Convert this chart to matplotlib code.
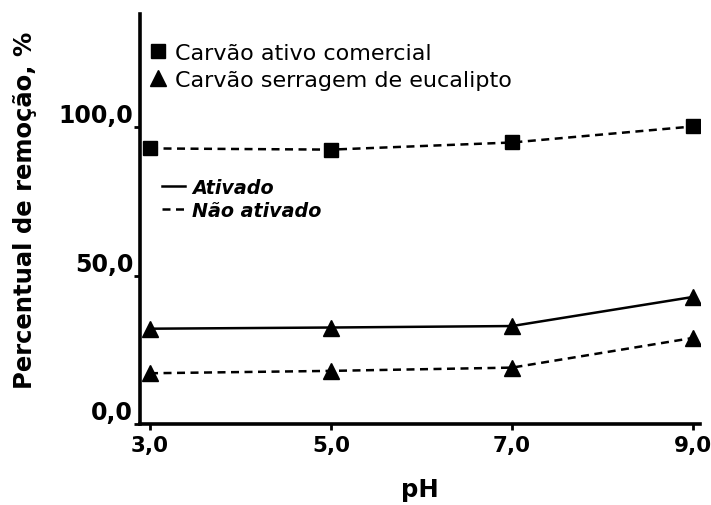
import matplotlib
matplotlib.use('Agg')
import matplotlib.pyplot as plt
import matplotlib.transforms as mtransforms
from matplotlib.lines import Line2D

plt.rcParams['font.family'] = ['DejaVu Sans']

# pH values and removal percentages
ph = [3.0, 5.0, 7.0, 9.0]
comercial_nao_ativado = [92.8, 92.4, 94.8, 100.2]
eucalipto_ativado = [32.1, 32.5, 33.0, 42.8]
eucalipto_nao_ativado = [17.1, 17.9, 19.0, 29.0]

x_ticks = [3.0, 5.0, 7.0, 9.0]
x_labels = ['3,0', '5,0', '7,0', '9,0']
y_ticks = [0, 50, 100]
y_labels = ['0,0', '50,0', '100,0']

fig = plt.figure(figsize=(7.11, 5.06), dpi=100)
ax = fig.add_axes([0.197, 0.160, 0.788, 0.810])

dash = (0, (3.2, 2.2))
ax.plot(ph, comercial_nao_ativado, color='black', lw=1.8, ls=dash,
        marker='s', ms=10.5, mec='black', mfc='black')
ax.plot(ph, eucalipto_ativado, color='black', lw=1.8, ls='-',
        marker='^', ms=11.5, mec='black', mfc='black')
ax.plot(ph, eucalipto_nao_ativado, color='black', lw=1.8, ls=dash,
        marker='^', ms=11.5, mec='black', mfc='black')

ax.set_xlim(2.89, 9.08)
ax.set_ylim(0, 138)

for side in ['top', 'right']:
    ax.spines[side].set_visible(False)
for side in ['left', 'bottom']:
    ax.spines[side].set_linewidth(2.6)

ax.set_xticks(x_ticks)
ax.set_xticklabels(x_labels, fontsize=15.5, fontweight='bold')
ax.set_yticks(y_ticks)
ax.set_yticklabels(y_labels, fontsize=17, fontweight='bold')
for lbl in ax.get_yticklabels():
    lbl.set_va('bottom')
# nudge the x tick labels a little to the left
shift = mtransforms.ScaledTranslation(-3 / 100, 0, fig.dpi_scale_trans)
for lbl in ax.get_xticklabels():
    lbl.set_transform(lbl.get_transform() + shift)
ax.tick_params(axis='both', direction='out', length=4, width=2)
ax.tick_params(axis='x', pad=4)
ax.tick_params(axis='y', pad=1)

ax.set_xlabel('pH', fontsize=17.5, fontweight='bold', labelpad=16)
ax.set_ylabel('Percentual de remoção, %', fontsize=17.5, fontweight='bold')
ax.yaxis.set_label_coords(-0.184, 0.524)

# marker legend
marker_handles = [
    Line2D([], [], ls='none', marker='s', ms=10.5, color='black'),
    Line2D([], [], ls='none', marker='^', ms=11.5, color='black'),
]
leg1 = ax.legend(marker_handles,
                 ['Carvão ativo comercial', 'Carvão serragem de eucalipto'],
                 loc='upper left', bbox_to_anchor=(0.016, 0.93), frameon=False,
                 fontsize=16, handlelength=0.8, handletextpad=0.36,
                 labelspacing=0.33, borderaxespad=0.0, borderpad=0.0)
ax.add_artist(leg1)

# line style legend
line_handles = [
    Line2D([], [], color='black', lw=1.8, ls='-'),
    Line2D([], [], color='black', lw=1.8, ls=dash),
]
ax.legend(line_handles, ['Ativado', 'Não ativado'],
          loc='upper left', bbox_to_anchor=(0.039, 0.60), frameon=False,
          prop={'size': 13.8, 'weight': 'bold', 'style': 'italic'},
          handlelength=1.2, handletextpad=0.37, labelspacing=0.2,
          borderaxespad=0.0, borderpad=0.0)

fig.savefig('out.png', dpi=100)
